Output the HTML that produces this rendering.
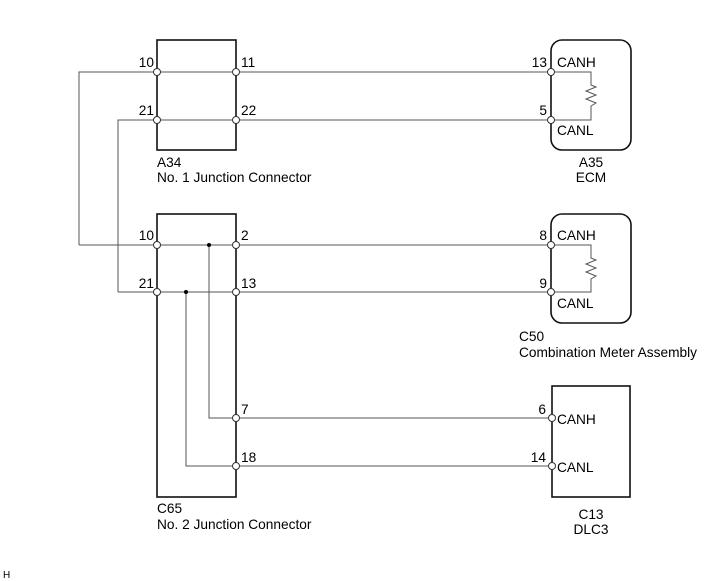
<!DOCTYPE html>
<html><head><meta charset="utf-8"><style>
html,body{margin:0;padding:0;background:#fff;}
svg{display:block;}
text{font-family:"Liberation Sans",Arial,sans-serif;font-size:13.7px;fill:#000;}
</style></head><body>
<svg width="713" height="581" viewBox="0 0 713 581" xmlns="http://www.w3.org/2000/svg">
<g fill="none" stroke="#555" stroke-width="1">
<polyline points="79,245 79,72 551,72"/>
<polyline points="118,292 118,120 551,120"/>
<line x1="79" y1="245" x2="551" y2="245"/>
<line x1="118" y1="292" x2="551" y2="292"/>
<polyline points="209,245 209,418 551,418"/>
<polyline points="186,292 186,466 551,466"/>
<polyline points="551,72 591,72 591,85 596,87 586,91 596,95 586,99 596,103 591,106 591,120 551,120"/>
<polyline points="551,245 591,245 591,258 596,260 586,264 596,268 586,272 596,276 591,279 591,292 551,292"/>
</g>
<g fill="none" stroke="#111" stroke-width="1.6">
<rect x="157" y="40" width="79" height="110"/>
<rect x="157" y="214" width="79" height="283"/>
<rect x="551" y="40" width="80" height="110" rx="11"/>
<rect x="551" y="214" width="80" height="109" rx="11"/>
<rect x="552" y="386" width="78" height="111"/>
</g>
<g fill="#fff" stroke="#333" stroke-width="1">
<circle cx="157" cy="72" r="3.5"/><circle cx="236" cy="72" r="3.5"/>
<circle cx="157" cy="120" r="3.5"/><circle cx="236" cy="120" r="3.5"/>
<circle cx="551" cy="72" r="3.5"/><circle cx="551" cy="120" r="3.5"/>
<circle cx="157" cy="245" r="3.5"/><circle cx="236" cy="245" r="3.5"/>
<circle cx="157" cy="292" r="3.5"/><circle cx="236" cy="292" r="3.5"/>
<circle cx="236" cy="418" r="3.5"/><circle cx="236" cy="466" r="3.5"/>
<circle cx="551" cy="245" r="3.5"/><circle cx="551" cy="292" r="3.5"/>
<circle cx="552" cy="418" r="3.5"/><circle cx="552" cy="466" r="3.5"/>
</g>
<g fill="#000">
<circle cx="209" cy="245" r="2"/><circle cx="186" cy="292" r="2"/>
</g>
<text x="154" y="67" text-anchor="end">10</text>
<text x="241" y="67">11</text>
<text x="154" y="115" text-anchor="end">21</text>
<text x="241" y="115">22</text>
<text x="157" y="167">A34</text>
<text x="157" y="182">No. 1 Junction Connector</text>
<text x="547" y="67" text-anchor="end">13</text>
<text x="557" y="67">CANH</text>
<text x="547" y="115" text-anchor="end">5</text>
<text x="557" y="135">CANL</text>
<text x="591" y="167" text-anchor="middle">A35</text>
<text x="591" y="182" text-anchor="middle">ECM</text>
<text x="154" y="240" text-anchor="end">10</text>
<text x="241" y="240">2</text>
<text x="154" y="288" text-anchor="end">21</text>
<text x="241" y="288">13</text>
<text x="241" y="414">7</text>
<text x="241" y="462">18</text>
<text x="157" y="513">C65</text>
<text x="157" y="529">No. 2 Junction Connector</text>
<text x="547" y="240" text-anchor="end">8</text>
<text x="557" y="240">CANH</text>
<text x="547" y="288" text-anchor="end">9</text>
<text x="557" y="308">CANL</text>
<text x="519" y="341">C50</text>
<text x="519" y="357">Combination Meter Assembly</text>
<text x="546" y="414" text-anchor="end">6</text>
<text x="557" y="424">CANH</text>
<text x="546" y="462" text-anchor="end">14</text>
<text x="557" y="472">CANL</text>
<text x="591" y="519" text-anchor="middle">C13</text>
<text x="591" y="534" text-anchor="middle">DLC3</text>
<text x="3" y="578" style="font-size:10px">H</text>
</svg>
</body></html>
